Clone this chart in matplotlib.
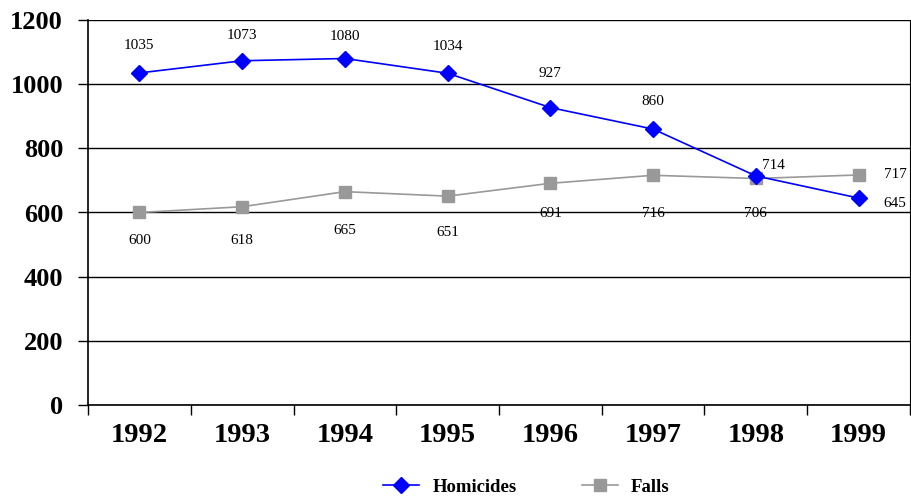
import matplotlib
matplotlib.use("Agg")
import matplotlib.pyplot as plt
import numpy as np

years = ["1992", "1993", "1994", "1995", "1996", "1997", "1998", "1999"]
homicides = [1035, 1073, 1080, 1034, 927, 860, 714, 645]
falls = [600, 618, 665, 651, 691, 716, 706, 717]
yticks = [0, 200, 400, 600, 800, 1000, 1200]

# label offsets in pixels (dx, dy), dy positive = up
hom_off = [(0, 27), (0, 25), (0, 22), (0, 27), (0, 34), (0, 28), (6, 10), (25, -5)]
fall_off = [(0, -28), (0, -34), (0, -39), (0, -36), (0, -30), (0, -38), (0, -35), (25, 0)]

plt.rcParams['font.family'] = ['Liberation Serif', 'DejaVu Serif']

fig = plt.figure(figsize=(9.11, 5.0), dpi=100)
ax = fig.add_axes([0.0966, 0.19, 0.9023, 0.77])

x = np.arange(len(years))
ax.plot(x, homicides, color='#0000FF', lw=1.2, marker='D', ms=8,
        markerfacecolor='#0000FF', markeredgecolor='#0000FF', label='Homicides', zorder=4)
ax.plot(x, falls, color='#999999', lw=1.2, marker='s', ms=9,
        markerfacecolor='#999999', markeredgecolor='#999999', label='Falls', zorder=3)

px = 0.72  # points per pixel at 100 dpi
for i, v in enumerate(homicides):
    dx, dy = hom_off[i]
    ax.annotate(str(v), (i, v), xytext=(dx * px, dy * px), textcoords='offset points',
                ha='center' if dx == 0 else 'left', va='center', fontsize=11)
for i, v in enumerate(falls):
    dx, dy = fall_off[i]
    ax.annotate(str(v), (i, v), xytext=(dx * px, dy * px), textcoords='offset points',
                ha='center' if dx == 0 else 'left', va='center', fontsize=11)

ax.set_xlim(-0.5, len(years) - 0.5)
ax.set_ylim(0, 1200)
ax.set_yticks(yticks)
ax.set_yticklabels([str(t) for t in yticks], fontsize=19, fontweight='bold')
ax.set_xticks(x)
ax.set_xticklabels(years, fontsize=20.5, fontweight='bold')
ax.tick_params(axis='x', which='major', length=0, pad=13)
ax.set_xticks(np.arange(-0.5, len(years)), minor=True)
ax.tick_params(axis='x', which='minor', length=7, width=1, direction='out')
ax.tick_params(axis='y', length=7, width=1, direction='out', pad=11)

ax.yaxis.grid(True, color='black', lw=1)
ax.set_axisbelow(True)
ax.spines['top'].set_visible(False)
ax.spines['right'].set_color('black')
ax.spines['left'].set_linewidth(1.2)
ax.spines['bottom'].set_linewidth(1.2)

fig.legend(loc='center', bbox_to_anchor=(0.578, 0.026), ncol=2, frameon=False,
           prop={'weight': 'bold', 'size': 13.5}, columnspacing=3.5, handlelength=1.9,
           handletextpad=0.7)

fig.savefig('out.png', dpi=100)
